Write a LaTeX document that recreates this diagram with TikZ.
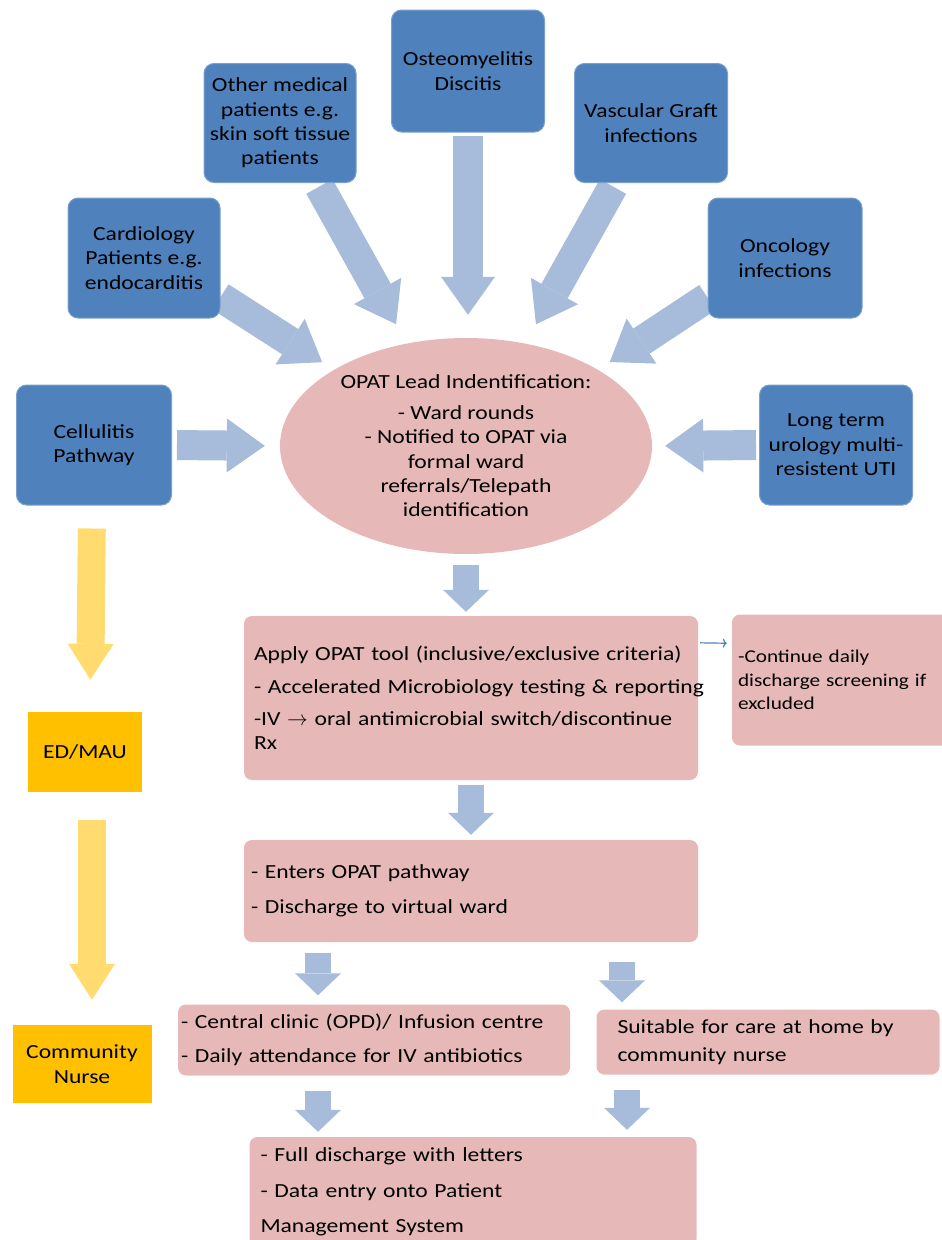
\documentclass[tikz,border=0pt]{standalone}
\usepackage{fontspec}
\setmainfont{Carlito}[FakeStretch=1.18]
\usetikzlibrary{shapes,arrows.meta,backgrounds}
\definecolor{boxblue}{HTML}{4F81BD}
\definecolor{arrowblue}{HTML}{A7BBDA}
\definecolor{pinkfill}{HTML}{E6B9B8}
\definecolor{amber}{HTML}{FFC000}
\definecolor{paleamber}{HTML}{FFDB70}

\begin{document}
\begin{tikzpicture}[x=1pt,y=1pt]
\tikzstyle{every node}+=[inner sep=0pt, font=\fontsize{20}{24.4}\selectfont]
\tikzstyle{source}=[draw=boxblue!75!white, fill=boxblue, line width=1pt, rounded corners=10pt, align=center]
\tikzstyle{stage}=[fill=pinkfill, rounded corners=8pt, align=left]
\tikzstyle{site}=[fill=amber, align=center]
\tikzstyle{bigarrow}=[draw=arrowblue, line width=30pt, -{Triangle[width=54pt,length=38pt,line width=0pt]}]
\tikzstyle{smallarrow}=[draw=arrowblue, line width=26pt, -{Triangle[width=46pt,length=22pt,line width=0pt]}]
\tikzstyle{yellowarrow}=[draw=paleamber, line width=28pt, -{Triangle[width=46pt,length=36pt,line width=0pt]}]
\useasboundingbox (0,0) rectangle (942,-1240);
% referring groups
\node[source, minimum width=153pt, minimum height=122pt] (osteo) at (468,-71) {Osteomyelitis\\Discitis};
\node[source, minimum width=152pt, minimum height=119pt] (other) at (280,-123) {Other medical\\patients e.g.\\skin soft tissue\\patients};
\node[source, minimum width=153pt, minimum height=119pt] (vasc) at (651,-123) {Vascular Graft\\infections};
\node[source, minimum width=152pt, minimum height=120pt] (card) at (144,-258) {Cardiology\\Patients e.g.\\endocarditis};
\node[source, minimum width=154pt, minimum height=120pt] (onco) at (785,-258) {Oncology\\infections};
\node[source, minimum width=155pt, minimum height=120pt] (cell) at (94,-445) {Cellulitis\\Pathway};
\node[source, minimum width=153pt, minimum height=120pt] (uro) at (836,-445) {Long term\\urology multi-\\resistent UTI};
\node[ellipse, fill=pinkfill, minimum width=372pt, minimum height=216pt, align=center] (lead) at (466,-446)
  {OPAT Lead Indentification:\\[6pt]- Ward rounds\\- Notified to OPAT via\\formal ward\\referrals/Telepath\\identification};
% pathway
\node[stage, minimum width=454pt, minimum height=164pt, text width=434pt, inner xsep=10pt] (apply) at (471,-698)
  {Apply OPAT tool (inclusive/exclusive criteria)\\[8pt]\mbox{- Accelerated Microbiology testing \& reporting}\\[8pt]-IV $\rightarrow$ oral antimicrobial switch/discontinue\\Rx};
\node[stage, minimum width=218pt, minimum height=131pt, text width=206pt, inner xsep=6pt, font=\fontsize{18}{23.5}\selectfont] (side) at (841,-680)
  {-Continue daily\\discharge screening if\\excluded};
\node[stage, minimum width=454pt, minimum height=102pt, text width=440pt, inner xsep=7pt] (enters) at (471,-891)
  {- Enters OPAT pathway\\[11pt]- Discharge to virtual ward};
\node[stage, minimum width=392pt, minimum height=71pt, text width=386pt, inner xsep=3pt] (clinic) at (374,-1040)
  {- Central clinic (OPD)/ Infusion centre\\[10pt]- Daily attendance for IV antibiotics};
\node[stage, minimum width=343pt, minimum height=65pt, text width=301pt, inner xsep=21pt] (home) at (768,-1042)
  {Suitable for care at home by\\[4pt]community nurse};
\node[stage, minimum width=447pt, minimum height=110pt, text width=425pt, inner xsep=11pt] (full) at (473,-1192)
  {- Full discharge with letters\\[11pt]- Data entry onto Patient\\[11pt]Management System};
% care settings
\node[site, minimum width=114pt, minimum height=80pt] (edmau) at (85,-752) {ED/MAU};
\node[site, minimum width=139pt, minimum height=78pt] (nurse) at (82,-1064) {Community\\Nurse};
\begin{scope}[on background layer]
\draw[bigarrow, shorten <=5pt, shorten >=15pt] (cell.east) -- (lead.west);
\draw[bigarrow, shorten <=3pt, shorten >=13pt] (uro.west) -- (lead.east);
\draw[bigarrow, shorten >=14pt] (card.-27) -- (lead.150);
\draw[bigarrow, shorten <=4pt, shorten >=22pt] (other.-58) -- (lead.120);
\draw[bigarrow, shorten <=3pt, shorten >=23pt] (osteo.south) -- (osteo.south |- lead.north);
\draw[bigarrow, shorten <=4pt, shorten >=22pt] (vasc.-121) -- (lead.60);
\draw[bigarrow, shorten >=14pt] (onco.207) -- (lead.30);
\draw[smallarrow, shorten <=11pt, shorten >=4pt] (lead.south) -- (lead.south |- apply.north);
\draw[smallarrow, shorten <=5pt, shorten >=5pt] (apply.south) -- (enters.north);
\draw[smallarrow, shorten <=11pt, shorten >=9pt] ([xshift=-153pt]enters.south) -- ([xshift=-56pt]clinic.north);
\draw[smallarrow, shorten <=20pt, shorten >=7pt] ([xshift=151pt]enters.south) -- ([xshift=-146pt]home.north);
\draw[smallarrow, shorten <=15pt, shorten >=5pt] ([xshift=-56pt]clinic.south) -- ([xshift=-155pt]full.north);
\draw[smallarrow, shorten <=15pt, shorten >=7pt] ([xshift=-141pt]home.south) -- ([xshift=154pt]full.north);
\draw[yellowarrow, shorten <=23pt, shorten >=32pt] ([xshift=-2pt]cell.south) -- ([xshift=5pt]edmau.north);
\draw[yellowarrow, shorten <=28pt, shorten >=25pt] ([xshift=7pt]edmau.south) -- ([xshift=10pt]nurse.north);
\end{scope}
\draw[boxblue, line width=1.2pt, -{To[length=4pt,width=9pt]}, shorten <=2pt, shorten >=5pt] ([yshift=-27pt]apply.north east) -- ([yshift=-29pt]side.north west);
\end{tikzpicture}
\end{document}
